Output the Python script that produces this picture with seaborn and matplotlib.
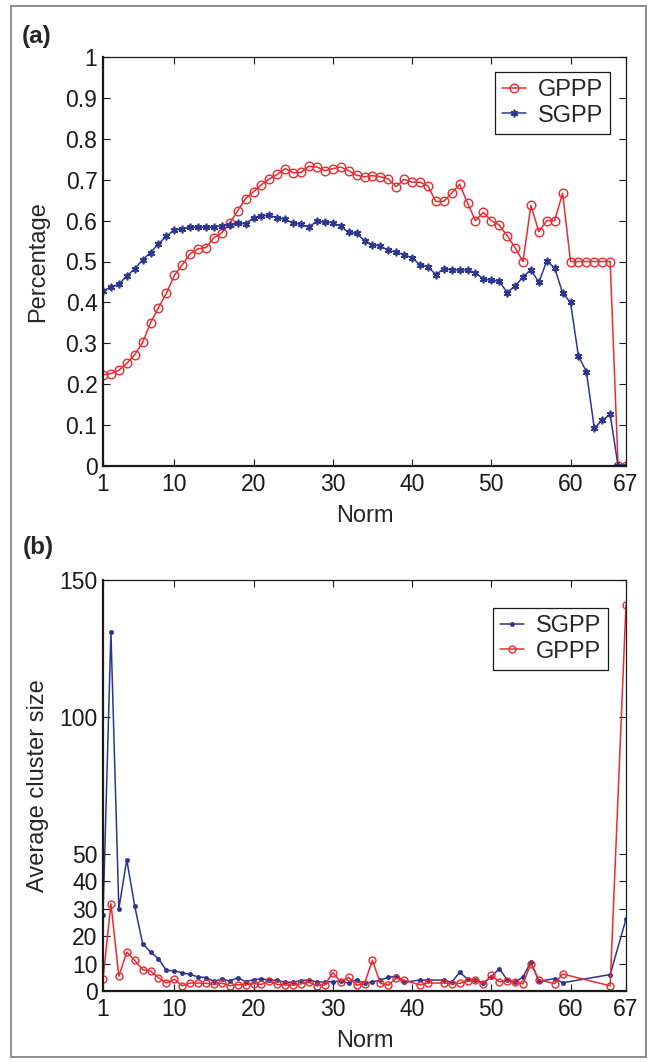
import numpy as np
import pandas as pd
import matplotlib
matplotlib.use("Agg")
import matplotlib.pyplot as plt
from matplotlib.patches import Rectangle
import seaborn as sns

# ---- data ----
norm_a = list(range(1, 68))

gppp_pct = [0.223, 0.226, 0.234, 0.251, 0.272, 0.302, 0.350, 0.387, 0.422, 0.466,
            0.492, 0.519, 0.531, 0.534, 0.558, 0.570, 0.594, 0.624, 0.654, 0.671,
            0.688, 0.702, 0.713, 0.727, 0.717, 0.718, 0.733, 0.731, 0.722, 0.727,
            0.731, 0.722, 0.711, 0.707, 0.710, 0.707, 0.702, 0.683, 0.701, 0.694,
            0.694, 0.685, 0.647, 0.647, 0.667, 0.689, 0.643, 0.600, 0.620, 0.600,
            0.589, 0.563, 0.534, 0.500, 0.637, 0.573, 0.600, 0.600, 0.667, 0.500,
            0.500, 0.500, 0.500, 0.500, 0.500, 0.0, 0.0]

sgpp_pct = [0.428, 0.438, 0.444, 0.465, 0.482, 0.504, 0.522, 0.543, 0.562, 0.577,
            0.579, 0.584, 0.584, 0.584, 0.584, 0.588, 0.589, 0.594, 0.592, 0.607,
            0.611, 0.613, 0.607, 0.603, 0.594, 0.591, 0.584, 0.599, 0.596, 0.595,
            0.586, 0.571, 0.569, 0.551, 0.541, 0.538, 0.527, 0.523, 0.517, 0.509,
            0.492, 0.487, 0.468, 0.482, 0.480, 0.479, 0.479, 0.472, 0.457, 0.454,
            0.452, 0.424, 0.440, 0.462, 0.480, 0.449, 0.501, 0.484, 0.423, 0.400,
            0.268, 0.231, 0.092, 0.112, 0.126, 0.0, 0.0]

norm_b = list(range(1, 40)) + [41, 42] + list(range(44, 57)) + [58, 59, 65, 67]

sgpp_size = [27.6, 131.0, 30.0, 47.9, 31.0, 17.3, 14.2, 11.8, 7.5, 7.4,
             6.6, 6.1, 5.1, 4.9, 3.5, 4.4, 3.6, 4.9, 3.4, 4.1,
             4.5, 3.9, 3.9, 3.2, 3.2, 3.8, 4.0, 3.3, 3.3, 3.4,
             3.6, 2.9, 4.1, 2.8, 3.3, 4.0, 5.0, 5.4, 3.2,
             4.0, 4.0,
             4.0, 3.2, 6.8, 4.4, 4.0, 3.0, 5.1, 8.2, 4.1, 3.3, 5.1, 10.6, 3.6,
             4.5, 3.0, 6.0, 26.2]

gppp_size = [4.3, 31.9, 5.4, 14.2, 11.2, 7.8, 7.3, 4.9, 2.9, 4.3,
             1.9, 2.9, 2.9, 2.8, 2.4, 2.9, 1.9, 2.3, 2.2, 2.7,
             2.4, 3.6, 2.4, 2.2, 2.1, 2.6, 3.2, 1.9, 2.2, 6.7,
             3.4, 5.0, 2.1, 2.7, 11.2, 2.8, 2.1, 4.7, 3.9,
             2.2, 2.9,
             2.9, 2.6, 2.8, 3.5, 4.0, 2.6, 5.7, 3.4, 3.6, 3.2, 2.6, 10.0, 4.1,
             2.7, 6.2, 1.9, 141.0]

x_ticks = [1, 10, 20, 30, 40, 50, 60, 67]
y_ticks_a = [0, 0.1, 0.2, 0.3, 0.4, 0.5, 0.6, 0.7, 0.8, 0.9, 1]
y_ticks_b = [0, 10, 20, 30, 40, 50, 100, 150]

RED = "#ec2a2f"
BLUE = "#2c3592"

sns.set_theme(style="ticks")
plt.rcParams["font.family"] = ["Liberation Sans", "DejaVu Sans"]
plt.rcParams["font.size"] = 16
plt.rcParams["xtick.direction"] = "in"
plt.rcParams["ytick.direction"] = "in"

fig = plt.figure(figsize=(6.53, 10.62), dpi=100)
ax_a = fig.add_axes([103 / 653, 1 - 466 / 1062, 523 / 653, 409 / 1062])
ax_b = fig.add_axes([103 / 653, 1 - 991 / 1062, 523 / 653, 411 / 1062])

# panel (a)
sns.lineplot(x=norm_a, y=gppp_pct, ax=ax_a, color=RED, lw=1.1, marker="o",
             markersize=6.2, markerfacecolor="none", markeredgecolor=RED,
             markeredgewidth=1.0, label="GPPP", sort=False)
sns.lineplot(x=norm_a, y=sgpp_pct, ax=ax_a, color=BLUE, lw=1.1, marker=(6, 2, 0),
             markersize=5.5, markeredgecolor=BLUE, markeredgewidth=1.2,
             label="SGPP", sort=False)
ax_a.set_ylim(0, 1)
ax_a.set_yticks(y_ticks_a)
ax_a.set_yticklabels(["0", "0.1", "0.2", "0.3", "0.4", "0.5", "0.6", "0.7", "0.8", "0.9", "1"])
ax_a.set_ylabel("Percentage", fontsize=17)

# panel (b)
sns.lineplot(x=norm_b, y=sgpp_size, ax=ax_b, color=BLUE, lw=1.1, marker="o",
             markersize=3, markeredgecolor=BLUE, markeredgewidth=0.5,
             label="SGPP", sort=False)
sns.lineplot(x=norm_b, y=gppp_size, ax=ax_b, color=RED, lw=1.1, marker="o",
             markersize=5, markerfacecolor="none", markeredgecolor=RED,
             markeredgewidth=1.0, label="GPPP", sort=False)
ax_b.set_ylim(0, 150)
ax_b.set_yticks(y_ticks_b)
ax_b.set_ylabel("Average cluster size", fontsize=17)

for ax in (ax_a, ax_b):
    ax.set_xlim(1, 67)
    ax.set_xticks(x_ticks)
    ax.set_xlabel("Norm", fontsize=17)
    h = ax.get_position().height * 1062
    ax.xaxis.label.set_va("center")
    ax.xaxis.set_label_coords(0.5, -50 / h)
    ax.yaxis.label.set_va("center")
    ax.yaxis.set_label_coords(-65 / 523, 0.5)
    ax.tick_params(axis="both", which="both", direction="in", length=5, width=0.8,
                   top=True, right=True, labelsize=16.5, colors="#1a1a1a")
    ax.tick_params(axis="x", pad=5)
    ax.tick_params(axis="y", pad=4)
    for side in ("top", "right"):
        ax.spines[side].set_linewidth(0.9)
    for side in ("left", "bottom"):
        ax.spines[side].set_linewidth(1.6)
    for sp in ax.spines.values():
        sp.set_color("#1a1a1a")
        sp.set_visible(True)
    ax.grid(False)

leg_kw = dict(loc="upper right", borderaxespad=0, fancybox=False, fontsize=17,
              handlelength=1.0, handletextpad=0.5, labelspacing=0.15,
              borderpad=0.3, framealpha=1)
leg = ax_a.legend(bbox_to_anchor=(0.969, 0.963), **leg_kw)
leg.get_frame().set_edgecolor("#1a1a1a")
leg.get_frame().set_linewidth(0.9)
leg = ax_b.legend(bbox_to_anchor=(0.966, 0.932), **leg_kw)
leg.get_frame().set_edgecolor("#1a1a1a")
leg.get_frame().set_linewidth(0.9)

fig.text(22 / 653, 1 - 36 / 1062, "(a)", fontsize=17.5, fontweight="bold", va="center")
fig.text(23 / 653, 1 - 548 / 1062, "(b)", fontsize=17.5, fontweight="bold", va="center")

fig.patches.append(Rectangle((11 / 653, 5 / 1062), 635 / 653, 1051 / 1062,
                             transform=fig.transFigure, fill=False,
                             edgecolor="#8c8c8c", linewidth=1.4))

fig.savefig("out.png", dpi=100)
